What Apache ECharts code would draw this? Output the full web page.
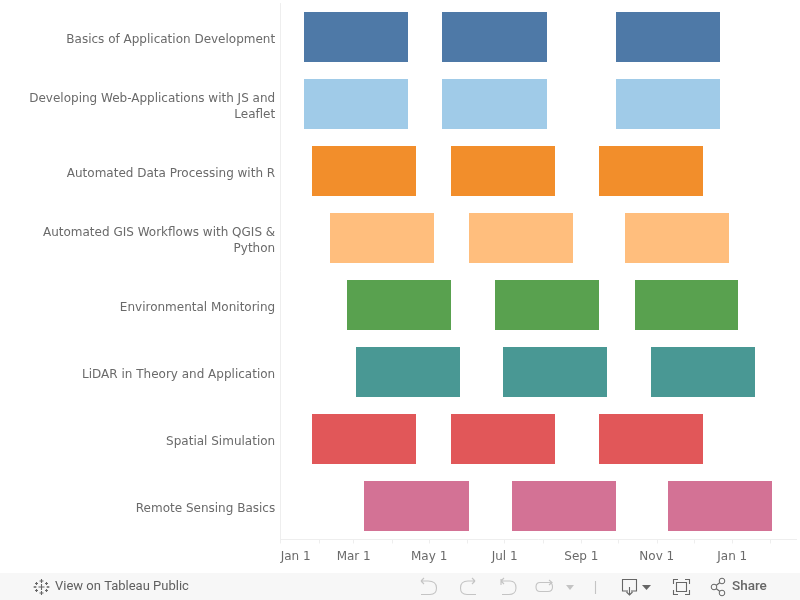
<!DOCTYPE html>
<html><head><meta charset="utf-8">
<style>html,body{margin:0;padding:0;background:#fff}#c{width:800px;height:600px}</style>
<script src="https://cdn.jsdelivr.net/npm/echarts@6/dist/echarts.min.js"></script></head>
<body><div id="c"></div><script>
const categories = ['Basics of Application Development','Developing Web-Applications with JS and Leaflet','Automated Data Processing with R','Automated GIS Workflows with QGIS & Python','Environmental Monitoring','LiDAR in Theory and Application','Spatial Simulation','Remote Sensing Basics'];
const categoryLabels = ['Basics of Application Development','Developing Web-Applications with JS and\nLeaflet','Automated Data Processing with R','Automated GIS Workflows with QGIS &\nPython','Environmental Monitoring','LiDAR in Theory and Application','Spatial Simulation','Remote Sensing Basics'];
const colors = ['#4e79a7','#a0cbe8','#f28e2b','#ffbe7d','#59a14f','#499894','#e15759','#d37295'];
const basics = [['2018-01-20','2018-04-14'],['2018-05-11','2018-08-04'],['2018-09-29','2018-12-22']];
const webapps = [['2018-01-20','2018-04-14'],['2018-05-11','2018-08-04'],['2018-09-29','2018-12-22']];
const dataProcessing = [['2018-01-26','2018-04-20'],['2018-05-19','2018-08-11'],['2018-09-15','2018-12-08']];
const gisWorkflows = [['2018-02-10','2018-05-05'],['2018-06-02','2018-08-25'],['2018-10-06','2018-12-29']];
const monitoring = [['2018-02-24','2018-05-19'],['2018-06-23','2018-09-15'],['2018-10-14','2019-01-06']];
const lidar = [['2018-03-03','2018-05-26'],['2018-06-30','2018-09-22'],['2018-10-27','2019-01-19']];
const simulation = [['2018-01-26','2018-04-20'],['2018-05-19','2018-08-11'],['2018-09-15','2018-12-08']];
const remoteSensing = [['2018-03-09','2018-06-02'],['2018-07-07','2018-09-29'],['2018-11-10','2019-02-02']];
const sessions = [basics,webapps,dataProcessing,gisWorkflows,monitoring,lidar,simulation,remoteSensing];
const monthTicks = ['2018-01-01','2018-02-01','2018-03-01','2018-04-01','2018-05-01','2018-06-01','2018-07-01','2018-08-01','2018-09-01','2018-10-01','2018-11-01','2018-12-01','2019-01-01','2019-02-01'];
const labelTicks = ['2018-01-01','2018-03-01','2018-05-01','2018-07-01','2018-09-01','2018-11-01','2019-01-01'];
const axisMin = '2018-01-01', axisMax = '2019-02-22';
const ts = s => new Date(s).getTime();
const MON = ['Jan','Feb','Mar','Apr','May','Jun','Jul','Aug','Sep','Oct','Nov','Dec'];
const FONT = '"DejaVu Sans", Verdana, sans-serif';
const TXT = '#6a6a6a', LINE = '#eeeeee', ICONL = '#c4c4c4', ICOND = '#666666';

const renderBar = (params, api) => {
  const a = api.coord([api.value(1), api.value(0)]);
  const b = api.coord([api.value(2), api.value(0)]);
  const h = Math.round(api.size([0, 1])[1] * 0.7463);
  const x0 = Math.round(a[0]), x1 = Math.round(b[0]), y0 = Math.round(a[1] - h / 2);
  return {type:'rect', shape:{x:x0, y:y0, width:x1-x0, height:h}, style:{fill:api.visual('color')}};
};
const series = categories.map((c,i)=>({
  type:'custom', name:c, renderItem:renderBar, encode:{x:[1,2], y:0}, silent:true,
  itemStyle:{color:colors[i]},
  data: sessions[i].map(r=>[c, ts(r[0]), ts(r[1])])
}));
let shapeId = 0;
const pathEl = (d, color, fill) => {
  const name = 'toolbarIcon' + (shapeId++);
  echarts.graphic.registerShape(name, echarts.graphic.extendPath(d, {}));
  return {type:name, style:{fill:fill||'none', stroke:fill?null:color, lineWidth:1.1}, silent:true, z:2};
};
const graphic = [
  {type:'rect', shape:{x:0,y:573,width:800,height:27}, style:{fill:'#f7f7f7'}, silent:true, z:0},
  {type:'text', x:55, y:587, style:{text:'View on Tableau Public', font:'13px Roboto, "Open Sans", sans-serif', fill:'#5f5f5f', verticalAlign:'middle'}, z:2},
  {type:'text', x:732, y:587, style:{text:'Share', font:'500 13.5px Roboto, "Open Sans", sans-serif', fill:'#666666', verticalAlign:'middle'}, z:2},
  pathEl('M41.5 579V583M39.5 581H43.5M41.5 591V595M39.5 593H43.5M35 586V588M33.5 587H36.5M48 586V588M46.5 587H49.5M36.5 582V585M35 583.5H38M46.5 582V585M45 583.5H48M36.5 589V592M35 590.5H38M46.5 589V592M45 590.5H48M41.5 584V590M38.5 587H44.5','#666'),
  pathEl('M421 581H428C434 581 436.5 584 436.5 588C436.5 592 434 594.5 430 594.5H421M421 581L424 578M421 581L424 584',ICONL),
  pathEl('M475 581H468C463 581 460.5 584 460.5 588C460.5 592 463 594.5 467 594.5H476M475 581L472 578M475 581L472 584',ICONL),
  pathEl('M501 579V585M501 581H510C514 581 516 584 516 588C516 592 513 594.5 509 594.5H502M501 581L504 578M501 581L504 584',ICONL),
  pathEl('M540 582.5H549C551.5 582.5 552.5 584 552.5 587C552.5 590 551 591.5 548 591.5H540C537 591.5 536 590 536 587C536 584 537 582.5 540 582.5M549 580L552 582.5L549 585',ICONL),
  pathEl('M566 585H574L570 590Z',ICONL,ICONL),
  pathEl('M595.5 581V594',ICONL),
  pathEl('M628 591H622.5V579.5H636.5V591H631M629.5 587V595M626.5 592L629.5 595L632.5 592',ICOND),
  pathEl('M642 585H651L646.5 590Z',ICOND,ICOND),
  pathEl('M673.5 584V579.5H678M685 579.5H689.5V584M689.5 590V594.5H685M678 594.5H673.5V590',ICOND),
  pathEl('M676.5 582.5H686.5V591.5H676.5Z',ICOND),
  pathEl('M714 587L722 581M714 587L722 593',ICOND),
  {type:'circle', shape:{cx:714,cy:587,r:2.8}, style:{fill:'#f7f7f7',stroke:ICOND,lineWidth:1}, silent:true, z:3},
  {type:'circle', shape:{cx:722,cy:581,r:2.8}, style:{fill:'#f7f7f7',stroke:ICOND,lineWidth:1}, silent:true, z:3},
  {type:'circle', shape:{cx:722,cy:593,r:2.8}, style:{fill:'#f7f7f7',stroke:ICOND,lineWidth:1}, silent:true, z:3}
];
const chart = echarts.init(document.getElementById('c'), null, {renderer:'canvas'});
chart.setOption({
  animation:false, backgroundColor:'#fff',
  textStyle:{fontFamily:FONT},
  grid:[
    {left:280.67, right:3.38, top:3.5, bottom:60.5},
    {left:280.67, right:3.38, top:6.4, bottom:58.1}
  ],
  xAxis:[{
    type:'value', gridIndex:0, min:ts(axisMin), max:ts(axisMax), position:'bottom',
    axisLine:{show:true, lineStyle:{color:LINE, width:1}},
    axisTick:{show:true, length:4, lineStyle:{color:LINE}, customValues:monthTicks.map(ts)},
    splitLine:{show:false},
    axisLabel:{customValues:labelTicks.map(ts), alignMinLabel:'left', margin:11, color:TXT, fontSize:12, fontFamily:FONT,
      formatter:v=>{const d=new Date(v);return MON[d.getUTCMonth()]+' '+d.getUTCDate();}}
  },{
    type:'value', gridIndex:1, show:false, min:ts(axisMin), max:ts(axisMax)
  }],
  yAxis:[{
    type:'category', gridIndex:0, data:categories, inverse:true,
    axisLine:{show:true, lineStyle:{color:LINE, width:1}}, axisTick:{show:false}, splitLine:{show:false},
    axisLabel:{show:false}
  },{
    type:'category', gridIndex:1, data:categories, inverse:true,
    axisLine:{show:false}, axisTick:{show:false}, splitLine:{show:false},
    axisLabel:{margin:5.5, color:TXT, fontSize:12, fontFamily:FONT, align:'right', lineHeight:16, interval:0,
      formatter:(v,i)=>categoryLabels[i]}
  }],
  series, graphic
});
</script></body></html>
